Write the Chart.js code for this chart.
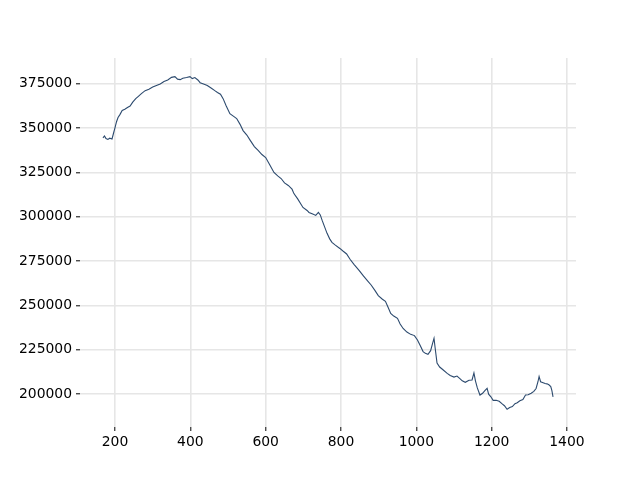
<!DOCTYPE html>
<html>
<head>
<meta charset="utf-8">
<script src="https://cdn.jsdelivr.net/npm/chart.js@4/dist/chart.umd.min.js"></script>
<style>
  html, body { margin: 0; padding: 0; background: #fff; }
  #wrap { width: 640px; height: 480px; }
</style>
</head>
<body>
<div id="wrap"><canvas id="lineChart" width="640" height="480"></canvas></div>
<script>
const xValues = [168, 172, 176, 181, 186, 192, 196, 200, 204, 208, 213, 219, 226, 233, 240, 247, 255, 262, 270, 280,
  290, 300, 310, 320, 330, 340, 350, 359, 366, 373, 380, 390, 399, 405, 412, 420, 426, 435, 445, 455,
  465, 472, 480, 487, 495, 505, 515, 523, 532, 540, 550, 559, 570, 580, 590, 600, 610, 622, 632, 641,
  650, 660, 670, 675, 685, 699, 710, 715, 725, 733, 740, 745, 750, 757, 763, 770, 776, 785, 797, 806,
  815, 824, 835, 848, 860, 870, 880, 890, 899, 910, 918, 925, 932, 940, 950, 957, 965, 975, 985, 995,
  1003, 1010, 1018, 1024, 1031, 1038, 1043, 1047, 1050, 1055, 1062, 1070, 1082, 1090, 1100, 1108, 1115, 1122, 1130, 1140,
  1148, 1153, 1157, 1162, 1169, 1176, 1182, 1188, 1192, 1198, 1204, 1212, 1220, 1228, 1234, 1241, 1248, 1255, 1262, 1268,
  1275, 1283, 1290, 1297, 1305, 1312, 1318, 1323, 1326, 1330, 1335, 1342, 1347, 1352, 1357, 1360, 1363];

const yValues = [344400, 345500, 344000, 343500, 344200, 343800, 347000, 350200, 353500, 355900, 357500, 359800, 360500, 361500, 362300, 364500, 366500, 367800, 369300, 371000,
  371800, 373000, 373900, 374800, 376200, 377000, 378500, 378900, 377500, 377200, 378000, 378400, 378900, 377800, 378400, 377000, 375500, 374800, 373900, 372500,
  371000, 370000, 369000, 366500, 362500, 358000, 356500, 355300, 352000, 348500, 346000, 343000, 339500, 337300, 335000, 333300, 329500, 324900, 323000, 321500,
  319000, 317600, 315500, 313000, 310000, 305200, 303500, 302400, 301500, 300700, 302400, 301000, 297900, 294000, 290600, 287500, 285500, 284000, 282100, 280500,
  279000, 276000, 273000, 269700, 266500, 264000, 261500, 258500, 255500, 253500, 252300, 249000, 245500, 244000, 242700, 239500, 237000, 235000, 233700, 233000,
  230500, 227500, 224000, 223000, 222500, 224500, 228500, 231500, 226000, 217500, 215300, 213900, 211700, 210500, 209600, 210200, 208900, 207500, 206700, 207800,
  208000, 212000, 207500, 203500, 199500, 200500, 202000, 203300, 200000, 198500, 196500, 196600, 196000, 194500, 193500, 191500, 192500, 193000, 194600, 195200,
  196300, 197000, 199500, 199700, 200500, 201600, 203200, 207000, 210000, 207000, 206600, 206000, 205800, 205300, 204300, 202000, 198500];

const xTicks = [200, 400, 600, 800, 1000, 1200, 1400];
const yTicks = [200000, 225000, 250000, 275000, 300000, 325000, 350000, 375000];

const points = xValues.map((x, i) => ({ x: x, y: yValues[i] }));

const gridColor = '#e6e6e6';
const font = { family: 'DejaVu Sans', size: 13.9 };

new Chart(document.getElementById('lineChart').getContext('2d'), {
  type: 'line',
  data: {
    datasets: [{
      data: points,
      borderColor: '#2c4a6e',
      borderWidth: 1.1,
      pointRadius: 0,
      tension: 0,
      fill: false
    }]
  },
  options: {
    responsive: false,
    animation: false,
    layout: { padding: { left: 0, right: 64, top: 58, bottom: 0 } },
    plugins: {
      legend: { display: false },
      tooltip: { enabled: false }
    },
    scales: {
      x: {
        type: 'linear',
        min: 107,
        max: 1424,
        border: { display: false },
        grid: { color: gridColor, lineWidth: 1.6, tickColor: '#000', tickLength: 4, tickWidth: 1 },
        ticks: { color: '#000', font: font, padding: 3, maxRotation: 0, callback: v => String(v) },
        afterBuildTicks: scale => { scale.ticks = xTicks.map(v => ({ value: v })); },
        afterFit: scale => { scale.height = 53; }
      },
      y: {
        type: 'linear',
        min: 181500,
        max: 389400,
        border: { display: false },
        grid: { color: gridColor, lineWidth: 1.6, tickColor: '#000', tickLength: 4, tickWidth: 1 },
        ticks: { color: '#000', font: font, padding: 4, callback: v => String(v) },
        afterBuildTicks: scale => { scale.ticks = yTicks.map(v => ({ value: v })); },
        afterFit: scale => { scale.width = 80; }
      }
    }
  }
});
</script>
</body>
</html>
